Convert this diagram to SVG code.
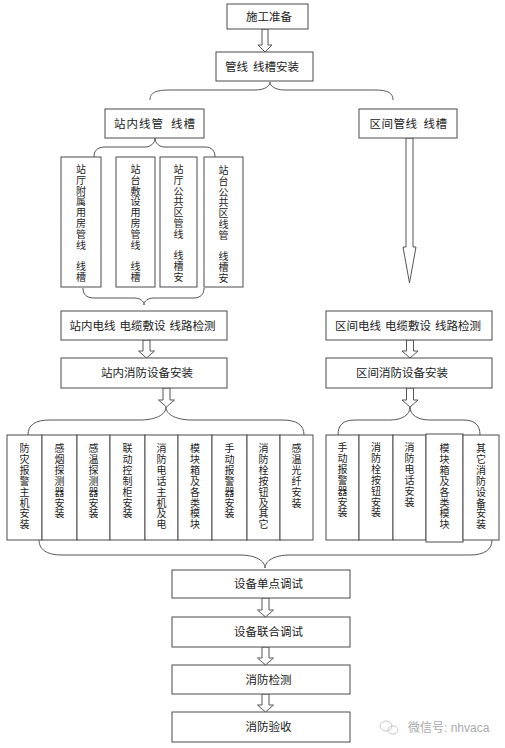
<svg xmlns="http://www.w3.org/2000/svg" width="505" height="748" viewBox="0 0 505 748">
<style>
.box{fill:#fff;stroke:#4a4a4a;stroke-width:1}
.t{font-family:"Liberation Sans","Noto Sans CJK SC",sans-serif;font-size:11.5px;fill:#222;text-anchor:middle}
.v{font-family:"Liberation Sans","Noto Sans CJK SC",sans-serif;font-size:10px;fill:#222;text-anchor:middle}
.ar{fill:#fff;stroke:#555;stroke-width:1}
.br{fill:none;stroke:#555;stroke-width:1}
.wm{font-family:"Liberation Sans","Noto Sans CJK SC",sans-serif;font-size:12px;fill:#aaa}
</style>
<rect width="505" height="748" fill="#fff"/>
<g id="connectors">
<path class="ar" d="M262,29 L268,29 L268,45 L272,45 L265,52 L258,45 L262,45 Z"/>
<path class="br" d="M150,100 C150,93 155,90 170,90 L255,90 C265,90 270,86 270,82 C270,86 275,90 285,90 L375,90 C388,90 393,93 393,100"/>
<path class="br" d="M94,157 C94,151 97,147 105,147 L145,147 C151,147 155,143 155,138 C155,143 159,147 165,147 L205,147 C212,147 215,151 215,157"/>
<path class="br" d="M83,288 C83,294 86,298 94,298 L134,298 C140,298 144,301 144,305 C144,301 148,298 154,298 L193,298 C201,298 204,294 204,288"/>
<path class="ar" d="M406,138 L413,138 L413,247 L416,247 L409.5,283 L403,247 L406,247 Z"/>
<path class="ar" d="M143,340 L150,340 L150,351 L154.5,351 L146.5,358 L138.5,351 L143,351 Z"/>
<path class="ar" d="M163,388 L170,388 L170,400 L174.5,400 L166.5,407 L158.5,400 L163,400 Z"/>
<path class="ar" d="M406.5,340 L413.5,340 L413.5,351 L418,351 L410,358 L402,351 L406.5,351 Z"/>
<path class="ar" d="M406.5,388 L413.5,388 L413.5,400 L418,400 L410,407 L402,400 L406.5,400 Z"/>
<path class="br" d="M28,435 C28,425 35,420 50,420 L140,420 C155,420 166,415 166,407 C166,415 177,420 192,420 L282,420 C297,420 304,425 304,435"/>
<path class="br" d="M338,435 C338,425 343,420 355,420 L390,420 C402,420 410,415 410,407 C410,415 418,420 430,420 L463,420 C475,420 480,425 480,435"/>
<path class="br" d="M39,540 C39,549 46,555 62,555 L240,555 C256,555 265,561 265,568 C265,561 274,555 290,555 L470,555 C485,555 492,549 492,540"/>
<path class="ar" d="M262,598 L269,598 L269,610 L273.5,610 L265.5,617 L257.5,610 L262,610 Z"/>
<path class="ar" d="M262,647 L269,647 L269,658 L273.5,658 L265.5,665 L257.5,658 L262,658 Z"/>
<path class="ar" d="M262,694 L269,694 L269,705 L273.5,705 L265.5,712 L257.5,705 L262,705 Z"/>
</g>
<g id="n-prep"><rect class="box" x="227" y="4" width="81" height="25"/><text class="t" x="269" y="20.5">施工准备</text></g>
<g id="n-install"><rect class="box" x="216" y="52" width="97" height="29"/><text class="t" x="262" y="70.5">管线<tspan dx="5">线槽安装</tspan></text></g>
<g id="n-station"><rect class="box" x="105" y="109" width="99" height="29"/><text class="t" x="155" y="127.5" letter-spacing="1">站内线管<tspan dx="7">线槽</tspan></text></g>
<g id="n-section"><rect class="box" x="359" y="109" width="98" height="29"/><text class="t" x="408.5" y="127.5" letter-spacing="0.5">区间管线<tspan dx="6">线槽</tspan></text></g>
<g id="n-v1"><rect class="box" x="61" y="157" width="40" height="130"/><text class="v" x="81 81 81 81 81 81 81 81 81 81" y="173 183.8 194.6 205.4 216.2 227 237.8 248.6 270.2 281">站厅附属用房管线线槽</text></g>
<g id="n-v2"><rect class="box" x="116" y="157" width="39" height="130"/><text class="v" x="135.5 135.5 135.5 135.5 135.5 135.5 135.5 135.5 135.5 135.5" y="173 183.8 194.6 205.4 216.2 227 237.8 248.6 270.2 281">站台敷设用房管线线槽</text></g>
<g id="n-v3"><rect class="box" x="160" y="157" width="37" height="130"/><text class="v" x="178.5 178.5 178.5 178.5 178.5 178.5 178.5 178.5 178.5 178.5" y="173 183.8 194.6 205.4 216.2 227 237.8 259.4 270.2 281">站厅公共区管线线槽安</text></g>
<g id="n-v4"><rect class="box" x="204" y="157" width="39" height="130"/><text class="v" x="223.5 223.5 223.5 223.5 223.5 223.5 223.5 223.5 223.5 223.5" y="174 184.8 195.6 206.4 217.2 228 238.8 260.4 271.2 282">站台公共区线管线槽安</text></g>
<g id="n-cable-in"><rect class="box" x="61" y="311" width="166" height="29"/><text class="t" x="142.5" y="329.5">站内电线<tspan dx="4">电缆敷设</tspan><tspan dx="4">线路检测</tspan></text></g>
<g id="n-cable-sec"><rect class="box" x="326" y="311" width="166" height="29"/><text class="t" x="408" y="329.5">区间电线<tspan dx="4">电缆敷设</tspan><tspan dx="4">线路检测</tspan></text></g>
<g id="n-equip-in"><rect class="box" x="61" y="358" width="166" height="30"/><text class="t" x="147" y="377">站内消防设备安装</text></g>
<g id="n-equip-sec"><rect class="box" x="326" y="358" width="166" height="30"/><text class="t" x="402" y="377">区间消防设备安装</text></g>
<g id="n-l1"><rect class="box" x="7" y="435" width="35" height="105"/><text class="v" x="24.5 24.5 24.5 24.5 24.5 24.5 24.5 24.5" y="452 462.9 473.8 484.7 495.6 506.5 517.4 528.3">防灾报警主机安装</text></g>
<g id="n-l2"><rect class="box" x="42" y="435" width="35" height="105"/><text class="v" x="59.5 59.5 59.5 59.5 59.5 59.5 59.5" y="452 462.9 473.8 484.7 495.6 506.5 517.4">感烟探测器安装</text></g>
<g id="n-l3"><rect class="box" x="77" y="435" width="33" height="105"/><text class="v" x="93.5 93.5 93.5 93.5 93.5 93.5 93.5" y="452 462.9 473.8 484.7 495.6 506.5 517.4">感温探测器安装</text></g>
<g id="n-l4"><rect class="box" x="110" y="435" width="35" height="105"/><text class="v" x="127.5 127.5 127.5 127.5 127.5 127.5 127.5" y="452 462.9 473.8 484.7 495.6 506.5 517.4">联动控制柜安装</text></g>
<g id="n-l5"><rect class="box" x="145" y="435" width="33" height="105"/><text class="v" x="161.5 161.5 161.5 161.5 161.5 161.5 161.5 161.5" y="452 462.9 473.8 484.7 495.6 506.5 517.4 528.3">消防电话主机及电</text></g>
<g id="n-l6"><rect class="box" x="178" y="435" width="34" height="105"/><text class="v" x="195 195 195 195 195 195 195 195" y="452 462.9 473.8 484.7 495.6 506.5 517.4 528.3">模块箱及各类模块</text></g>
<g id="n-l7"><rect class="box" x="212" y="435" width="35" height="105"/><text class="v" x="229.5 229.5 229.5 229.5 229.5 229.5 229.5" y="452 462.9 473.8 484.7 495.6 506.5 517.4">手动报警器安装</text></g>
<g id="n-l8"><rect class="box" x="247" y="435" width="33" height="105"/><text class="v" x="263.5 263.5 263.5 263.5 263.5 263.5 263.5 263.5" y="452 462.9 473.8 484.7 495.6 506.5 517.4 528.3">消防栓按钮及其它</text></g>
<g id="n-l9"><rect class="box" x="280" y="435" width="33" height="105"/><text class="v" x="296.5 296.5 296.5 296.5 296.5 296.5" y="452 462.9 473.8 484.7 495.6 506.5">感温光纤安装</text></g>
<g id="n-r1"><rect class="box" x="326" y="435" width="33" height="105"/><text class="v" x="342.5 342.5 342.5 342.5 342.5 342.5 342.5" y="451 461.9 472.8 483.7 494.6 505.5 516.4">手动报警器安装</text></g>
<g id="n-r2"><rect class="box" x="359" y="435" width="34" height="105"/><text class="v" x="376 376 376 376 376 376 376" y="451 461.9 472.8 483.7 494.6 505.5 516.4">消防栓按钮安装</text></g>
<g id="n-r3"><rect class="box" x="393" y="435" width="33" height="105"/><text class="v" x="409.5 409.5 409.5 409.5 409.5 409.5" y="451 461.9 472.8 483.7 494.6 505.5">消防电话安装</text></g>
<g id="n-r4"><rect class="box" x="426" y="434" width="37" height="108"/><text class="v" x="444.5 444.5 444.5 444.5 444.5 444.5 444.5 444.5" y="452 462.9 473.8 484.7 495.6 506.5 517.4 528.3">模块箱及各类模块</text></g>
<g id="n-r5"><rect class="box" x="463" y="435" width="36" height="105"/><text class="v" x="481 481 481 481 481 481 481 481" y="452 462.9 473.8 484.7 495.6 506.5 517.4 528.3">其它消防设备安装</text></g>
<g id="n-single"><rect class="box" x="172" y="570" width="178" height="28"/><text class="t" x="268.5" y="588">设备单点调试</text></g>
<g id="n-joint"><rect class="box" x="172" y="617" width="178" height="30"/><text class="t" x="268.5" y="636">设备联合调试</text></g>
<g id="n-inspect"><rect class="box" x="172" y="665" width="178" height="29"/><text class="t" x="268.5" y="683.5">消防检测</text></g>
<g id="n-accept"><rect class="box" x="172" y="712" width="178" height="30"/><text class="t" x="268.5" y="731">消防验收</text></g>
<g id="watermark">
<ellipse cx="386" cy="726" rx="6" ry="5" fill="none" stroke="#c8c8c8" stroke-width="1"/>
<ellipse cx="393" cy="730" rx="5" ry="4" fill="none" stroke="#c8c8c8" stroke-width="1"/>
<text class="wm" x="408" y="731.5">微信号: nhvaca</text>
</g>
</svg>
